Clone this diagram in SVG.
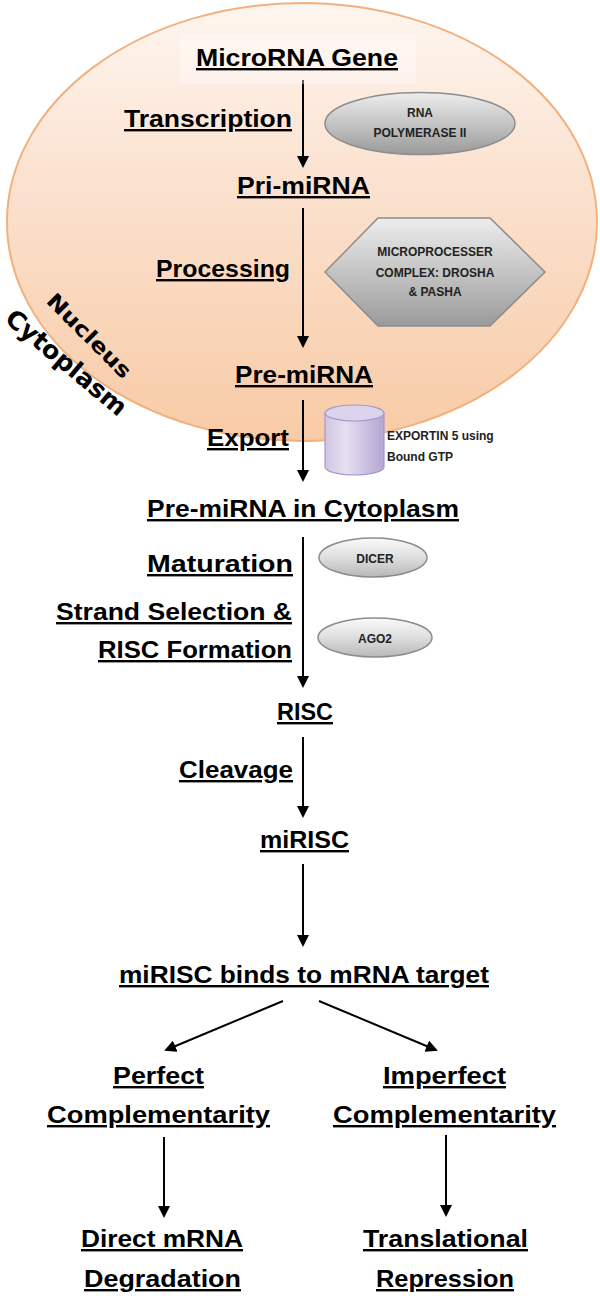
<svg xmlns="http://www.w3.org/2000/svg" width="600" height="1296" viewBox="0 0 600 1296">
<defs>
<linearGradient id="nucFill" x1="0" y1="0" x2="0" y2="1">
<stop offset="0" stop-color="#FEF6F0"/>
<stop offset="0.4" stop-color="#FBE2D0"/>
<stop offset="1" stop-color="#F8CBA6"/>
</linearGradient>
<linearGradient id="grayDark" x1="0" y1="0" x2="0" y2="1">
<stop offset="0" stop-color="#EDEDED"/>
<stop offset="0.5" stop-color="#C4C4C4"/>
<stop offset="1" stop-color="#9A9A9A"/>
</linearGradient>
<linearGradient id="grayLight" x1="0" y1="0" x2="0" y2="1">
<stop offset="0" stop-color="#FAFAFA"/>
<stop offset="0.5" stop-color="#DEDEDE"/>
<stop offset="1" stop-color="#B8B8B8"/>
</linearGradient>
<linearGradient id="cylBody" x1="0" y1="0" x2="1" y2="0">
<stop offset="0" stop-color="#CFC5E3"/>
<stop offset="0.35" stop-color="#E6E0F1"/>
<stop offset="1" stop-color="#B4A4D2"/>
</linearGradient>
<marker id="arrow" viewBox="0 0 12 12" refX="10" refY="6" markerWidth="12" markerHeight="12" markerUnits="userSpaceOnUse" orient="auto">
<path d="M0,0 L12,6 L0,12 z" fill="#000"/>
</marker>
<style>
.lbl{font-family:'Liberation Sans',Arial,sans-serif;font-weight:bold;font-size:24px;fill:#000;text-decoration:underline;}
.sm{font-family:'Liberation Sans',Arial,sans-serif;font-weight:bold;font-size:12px;fill:#222;}
.region{font-family:'DejaVu Sans',Verdana,sans-serif;font-weight:bold;fill:#000;}
.conn{stroke:#000;stroke-width:2;fill:none;marker-end:url(#arrow);}
</style>
</defs>
<rect width="600" height="1296" fill="#FFFFFF"/>

<g id="nucleus">
<ellipse cx="302" cy="222" rx="295" ry="219" fill="url(#nucFill)" stroke="#F2B07E" stroke-width="2"/>
<text class="region" font-size="21" text-anchor="middle" textLength="110" lengthAdjust="spacingAndGlyphs" transform="translate(89,336) rotate(45)" y="7">Nucleus</text>
</g>
<g id="cytoplasm">
<text class="region" font-size="25" text-anchor="middle" textLength="150" lengthAdjust="spacingAndGlyphs" transform="translate(66,363) rotate(40)" y="8">Cytoplasm</text>
</g>

<g id="connectors">
<line class="conn" x1="303" y1="80" x2="303" y2="166"/>
<line class="conn" x1="303" y1="208" x2="303" y2="346"/>
<line class="conn" x1="303" y1="400" x2="303" y2="480"/>
<line class="conn" x1="303" y1="537" x2="303" y2="686"/>
<line class="conn" x1="303" y1="737" x2="303" y2="816"/>
<line class="conn" x1="303" y1="864" x2="303" y2="945"/>
<line class="conn" x1="283" y1="1001" x2="166" y2="1050"/>
<line class="conn" x1="319" y1="1001" x2="436" y2="1050"/>
<line class="conn" x1="164" y1="1137" x2="164" y2="1216"/>
<line class="conn" x1="446" y1="1135" x2="446" y2="1215"/>
</g>

<g id="microrna-gene">
<rect x="180" y="34" width="236" height="50" fill="#FFFFFF" opacity="0.35"/>
<text class="lbl" x="196" y="66" textLength="202" lengthAdjust="spacingAndGlyphs">MicroRNA Gene</text>
</g>
<g id="transcription"><text class="lbl" x="124" y="127" textLength="168" lengthAdjust="spacingAndGlyphs">Transcription</text></g>
<g id="rna-polymerase">
<ellipse cx="420" cy="123.5" rx="95" ry="31" fill="url(#grayDark)" stroke="#8C8C8C" stroke-width="1.5"/>
<text class="sm" x="420" y="117" text-anchor="middle">RNA</text>
<text class="sm" x="420" y="137" text-anchor="middle">POLYMERASE II</text>
</g>
<g id="pri-mirna"><text class="lbl" x="237" y="194" textLength="133" lengthAdjust="spacingAndGlyphs">Pri-miRNA</text></g>
<g id="processing"><text class="lbl" x="156" y="277" textLength="134" lengthAdjust="spacingAndGlyphs">Processing</text></g>
<g id="microprocessor">
<polygon points="325,272 378,218 490,218 545,272 490,326 378,326" fill="url(#grayDark)" stroke="#8C8C8C" stroke-width="1.5"/>
<text class="sm" x="435" y="256" text-anchor="middle">MICROPROCESSER</text>
<text class="sm" x="435" y="277" text-anchor="middle">COMPLEX: DROSHA</text>
<text class="sm" x="435" y="296" text-anchor="middle">&amp; PASHA</text>
</g>
<g id="pre-mirna"><text class="lbl" x="235" y="383" textLength="138" lengthAdjust="spacingAndGlyphs">Pre-miRNA</text></g>
<g id="export"><text class="lbl" x="207" y="446" textLength="82" lengthAdjust="spacingAndGlyphs">Export</text></g>
<g id="exportin5">
<path d="M325,413 L325,467 A29.5,8 0 0 0 384,467 L384,413 Z" fill="url(#cylBody)" stroke="#A898CB" stroke-width="1.2"/>
<ellipse cx="354.5" cy="413" rx="29.5" ry="8" fill="#DCD3EC" stroke="#A898CB" stroke-width="1.2"/>
<text class="sm" x="387" y="440">EXPORTIN 5 using</text>
<text class="sm" x="387" y="461">Bound GTP</text>
</g>
<g id="pre-mirna-cytoplasm"><text class="lbl" x="147" y="517" textLength="312" lengthAdjust="spacingAndGlyphs">Pre-miRNA in Cytoplasm</text></g>
<g id="maturation"><text class="lbl" x="147" y="572" textLength="146" lengthAdjust="spacingAndGlyphs">Maturation</text></g>
<g id="dicer">
<ellipse cx="373" cy="557.5" rx="54" ry="19.5" fill="url(#grayLight)" stroke="#8C8C8C" stroke-width="1.5"/>
<text class="sm" x="375" y="563" text-anchor="middle">DICER</text>
</g>
<g id="strand-selection">
<text class="lbl" x="56" y="620" textLength="236" lengthAdjust="spacingAndGlyphs">Strand Selection &amp;</text>
<text class="lbl" x="98" y="658" textLength="194" lengthAdjust="spacingAndGlyphs">RISC Formation</text>
</g>
<g id="ago2">
<ellipse cx="375" cy="637.5" rx="57" ry="19.5" fill="url(#grayLight)" stroke="#8C8C8C" stroke-width="1.5"/>
<text class="sm" x="375" y="643" text-anchor="middle">AGO2</text>
</g>
<g id="risc"><text class="lbl" x="277" y="720" textLength="56" lengthAdjust="spacingAndGlyphs">RISC</text></g>
<g id="cleavage"><text class="lbl" x="179" y="778" textLength="114" lengthAdjust="spacingAndGlyphs">Cleavage</text></g>
<g id="mirisc"><text class="lbl" x="260" y="848" textLength="89" lengthAdjust="spacingAndGlyphs">miRISC</text></g>
<g id="mirisc-binds"><text class="lbl" x="119" y="983" textLength="370" lengthAdjust="spacingAndGlyphs">miRISC binds to mRNA target</text></g>
<g id="perfect">
<text class="lbl" x="113" y="1084" textLength="91" lengthAdjust="spacingAndGlyphs">Perfect</text>
<text class="lbl" x="47" y="1123" textLength="223" lengthAdjust="spacingAndGlyphs">Complementarity</text>
</g>
<g id="imperfect">
<text class="lbl" x="383" y="1084" textLength="123" lengthAdjust="spacingAndGlyphs">Imperfect</text>
<text class="lbl" x="333" y="1123" textLength="223" lengthAdjust="spacingAndGlyphs">Complementarity</text>
</g>
<g id="degradation">
<text class="lbl" x="81" y="1247" textLength="162" lengthAdjust="spacingAndGlyphs">Direct mRNA</text>
<text class="lbl" x="84" y="1287" textLength="157" lengthAdjust="spacingAndGlyphs">Degradation</text>
</g>
<g id="repression">
<text class="lbl" x="363" y="1247" textLength="165" lengthAdjust="spacingAndGlyphs">Translational</text>
<text class="lbl" x="376" y="1287" textLength="138" lengthAdjust="spacingAndGlyphs">Repression</text>
</g>
</svg>
